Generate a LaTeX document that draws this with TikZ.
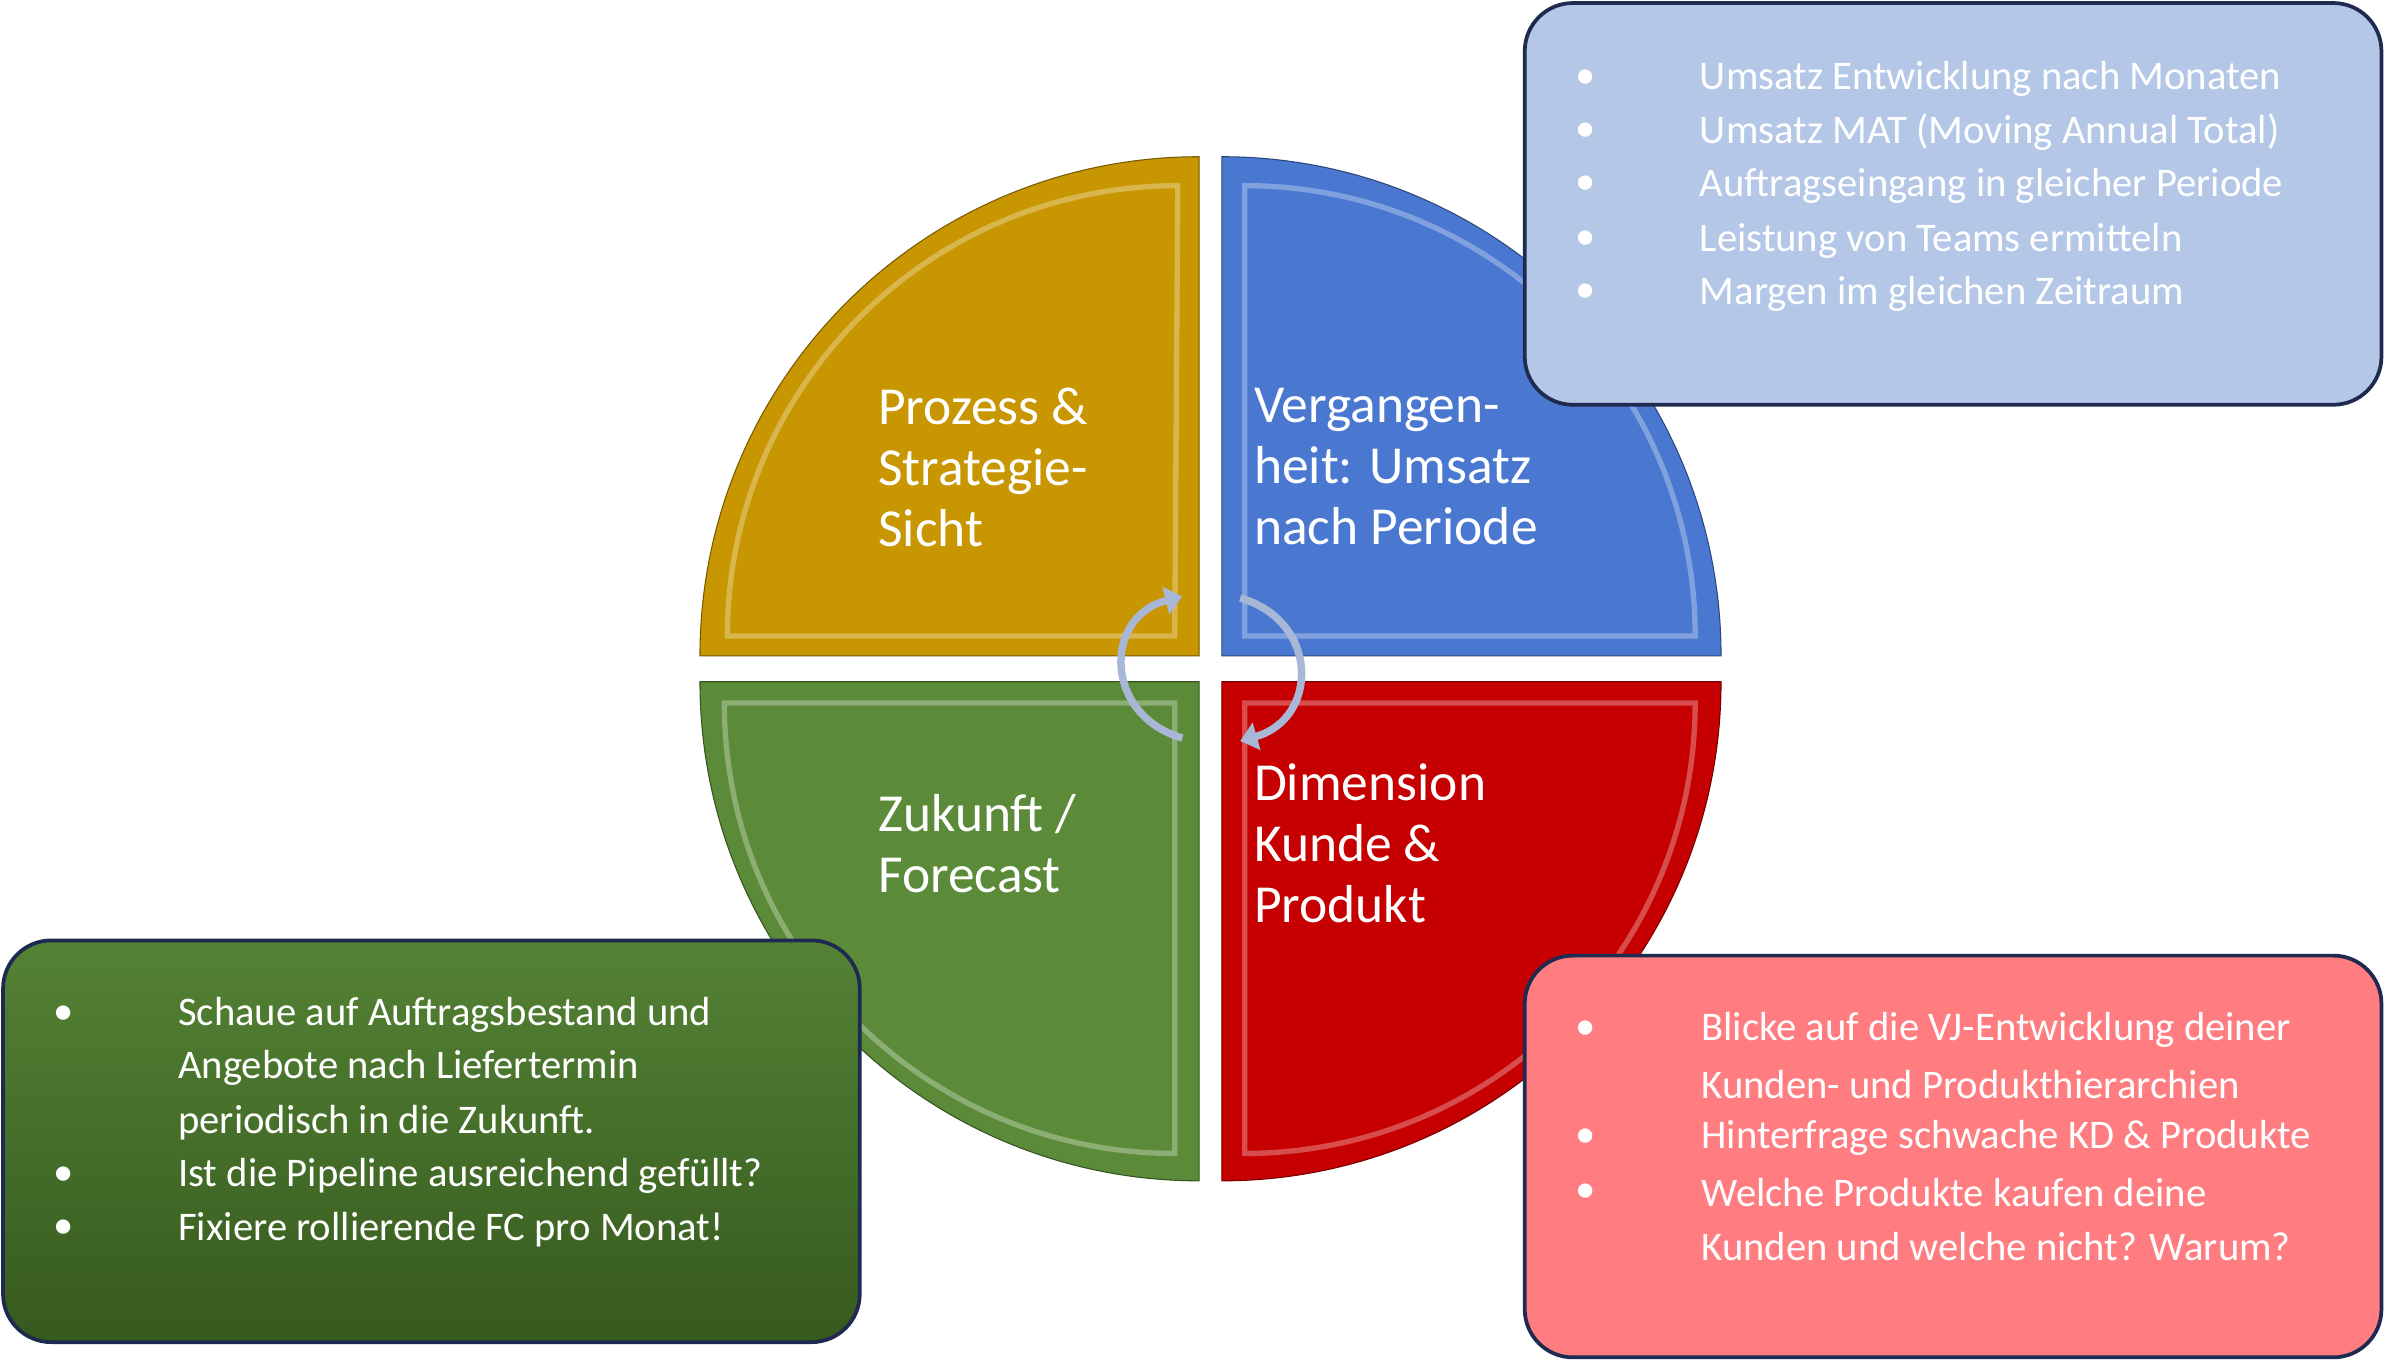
\documentclass[tikz,border=0pt]{standalone}
\usepackage{fontspec}
\setmainfont{Carlito}
\usetikzlibrary{arrows.meta}
\definecolor{qyel}{HTML}{C89600}
\definecolor{qblue}{HTML}{4A78D0}
\definecolor{qred}{HTML}{C60000}
\definecolor{qgreen}{HTML}{5B8B38}
\definecolor{bblue}{HTML}{B4C7E7}
\definecolor{bred}{HTML}{FF7C80}
\definecolor{bgreen1}{HTML}{548235}
\definecolor{bgreen2}{HTML}{365A1E}
\definecolor{bedge}{HTML}{1F2A50}
\definecolor{arr}{HTML}{A9B7D6}
\begin{document}
\begin{tikzpicture}[x=0.05cm,y=-0.05cm,
 qtext/.style={text=white,font=\fontsize{50}{57}\selectfont,align=left,anchor=north west,inner sep=0},
 btext/.style={text=white,font=\fontsize{38}{50}\selectfont,anchor=west,inner sep=0},
 bull/.style={text=white,font=\fontsize{38}{50}\selectfont,anchor=center,inner sep=0},
 info/.style={rounded corners=45,draw=bedge,line width=3.5},
 carrow/.style={line width=7,draw=arr,-{Triangle[length=16,width=26]}}]
\useasboundingbox (0,0) rectangle (1568,894);
% quadrants
\fill[qyel,draw=qyel!60!black,line width=1] (788,431) -- (460,431) arc[start angle=180,end angle=270,radius=328] -- cycle;
\fill[qblue,draw=qblue!60!black,line width=1] (803,431) -- (803,103) arc[start angle=270,end angle=360,radius=328] -- cycle;
\fill[qred,draw=qred!60!black,line width=1] (803,448) -- (1131,448) arc[start angle=0,end angle=90,radius=328] -- cycle;
\fill[qgreen,draw=qgreen!60!black,line width=1] (788,448) -- (788,776) arc[start angle=90,end angle=180,radius=328] -- cycle;
% bevel highlights
\draw[white,opacity=0.3,line width=5] (772,418) -- (478,418) arc[start angle=180,end angle=270,radius=296] -- cycle;
\draw[white,opacity=0.3,line width=5] (818,418) -- (818,122) arc[start angle=270,end angle=360,radius=296] -- cycle;
\draw[white,opacity=0.3,line width=5] (818,462) -- (1114,462) arc[start angle=0,end angle=90,radius=296] -- cycle;
\draw[white,opacity=0.3,line width=5] (772,462) -- (772,758) arc[start angle=90,end angle=180,radius=296] -- cycle;
\node[qtext] (q1) at (577,255) {Prozess \&\\Strategie-\\Sicht};
\node[qtext] (q2) at (824,255) {Vergangen-\\heit: Umsatz\\nach Periode};
\node[qtext] (q3) at (577,522) {Zukunft /\\Forecast};
\node[qtext] (q4) at (824,502) {Dimension\\Kunde \&\\Produkt};
% circular arrows
\coordinate (a1) at (777,485);
\coordinate (a2) at (777,392);
\coordinate (b1) at (815,393);
\coordinate (b2) at (815,487);
\draw[carrow] (a1) .. controls (725,470) and (725,405) .. (a2);
\draw[carrow] (b1) .. controls (867,408) and (867,472) .. (b2);
% info boxes
\draw[info,fill=bblue] (1002,2) rectangle (1565,266);
\shade[info,top color=bgreen1,bottom color=bgreen2] (2,618) rectangle (565,882);
\draw[info,fill=bred] (1002,628) rectangle (1565,892);
\foreach \y/\t [count=\i] in {52/Umsatz Entwicklung nach Monaten,87/Umsatz MAT (Moving Annual Total),122/Auftragseingang in gleicher Periode,158/Leistung von Teams ermitteln,193/Margen im gleichen Zeitraum}{
 \node[bull] (bb\i) at (1042,\y) {•};
 \node[btext] (bt\i) at (1117,\y) {\t};}
\node[bull] (gb1) at (42,667) {•};
\node[btext] (gt1) at (117,667) {Schaue auf Auftragsbestand und};
\node[btext] (gt2) at (117,702) {Angebote nach Liefertermin};
\node[btext] (gt3) at (117,738) {periodisch in die Zukunft.};
\node[bull] (gb2) at (42,773) {•};
\node[btext] (gt4) at (117,773) {Ist die Pipeline ausreichend gefüllt?};
\node[bull] (gb3) at (42,808) {•};
\node[btext] (gt5) at (117,808) {Fixiere rollierende FC pro Monat!};
\node[bull] (rb1) at (1042,677) {•};
\node[btext] (rt1) at (1118,677) {Blicke auf die VJ-Entwicklung deiner};
\node[btext] (rt2) at (1118,713) {Kunden- und Produkthierarchien};
\node[bull] (rb2) at (1042,748) {•};
\node[btext] (rt3) at (1118,748) {Hinterfrage schwache KD \& Produkte};
\node[bull] (rb3) at (1042,784) {•};
\node[btext] (rt4) at (1118,784) {Welche Produkte kaufen deine};
\node[btext] (rt5) at (1118,819) {Kunden und welche nicht? Warum?};
\end{tikzpicture}
\end{document}
